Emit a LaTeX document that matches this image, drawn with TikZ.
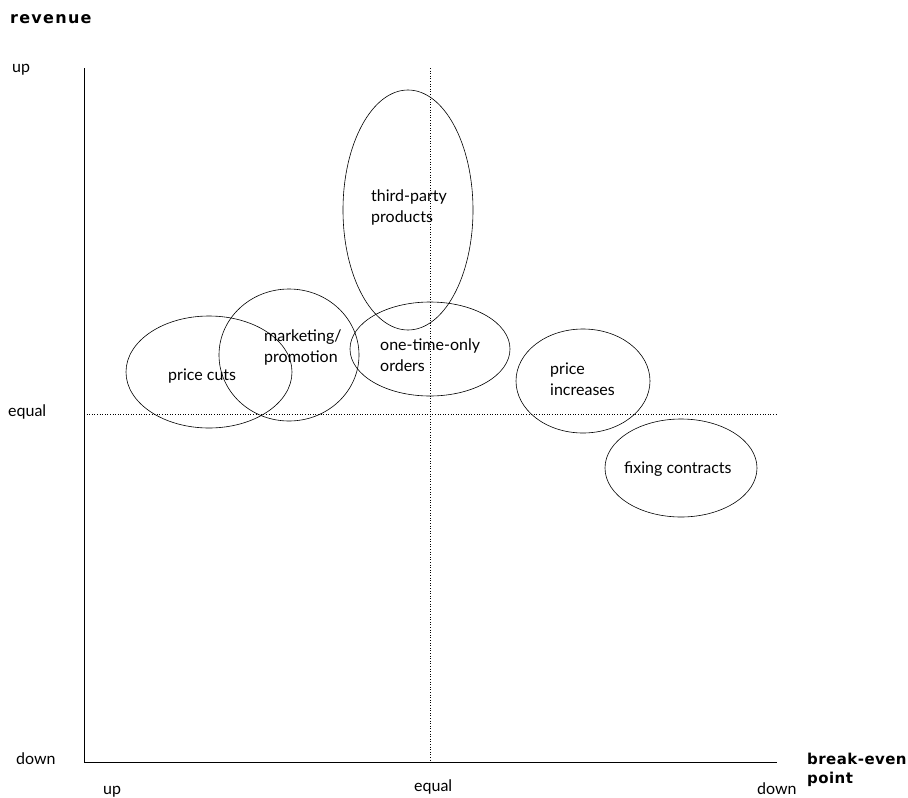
\documentclass[tikz,border=0pt]{standalone}
\usepackage{fontspec}
\setmainfont{Lato}
\newfontfamily\headfont{DejaVu Sans}[LetterSpace=3]
\newfontfamily\revfont{DejaVu Sans}[LetterSpace=8]
\usetikzlibrary{shapes.geometric}
\begin{document}
\begin{tikzpicture}[x=1pt,y=-1pt,
  every node/.style={inner sep=0pt,font=\fontsize{16}{21}\selectfont},
  axis/.style={line width=0.8pt},
  guide/.style={dotted,line width=0.6pt},
  field/.style={draw,line width=0.6pt},
  lbl/.style={anchor=base west,align=left},
  head/.style={anchor=base west,align=left,font=\headfont\bfseries\fontsize{15}{19}\selectfont}]
\useasboundingbox (0,0) rectangle (908,798);
% axes
\coordinate (O) at (84,762);
\coordinate (Ytop) at (84,68);
\coordinate (Xend) at (777,762);
\draw[axis] (Ytop) -- (O) -- (Xend);
% equal lines
\coordinate (hL) at (84,414);
\coordinate (hR) at (777,414);
\coordinate (vT) at (430,68);
\coordinate (vB) at (430,762);
\draw[guide] (hL) -- (hR);
\draw[guide] (vT) -- (vB);
% fields
\draw[field] (408,210) ellipse [x radius=65, y radius=120];
\draw[field] (209,372) ellipse [x radius=83, y radius=56];
\draw[field] (289,355) ellipse [x radius=70, y radius=66];
\draw[field] (430,349) ellipse [x radius=80, y radius=47];
\draw[field] (583,381) ellipse [x radius=67, y radius=52];
\draw[field] (681,468) ellipse [x radius=76, y radius=49];
% field labels (anchored at the baseline of the last line)
\node[lbl] (tp) at (371,222) {third-party\\products};
\node[lbl] (pc) at (168,380) {price cuts};
\node[lbl] (mp) at (264,362) {marketing/\\promotion};
\node[lbl] (oo) at (380,371) {one-time-only\\orders};
\node[lbl] (pi) at (550,395) {price\\increases};
\node[lbl] (fc) at (624,473) {fixing contracts};
% axis labels
\node[head,font=\revfont\bfseries\fontsize{16}{19}\selectfont] (rev) at (10,23) {revenue};
\node[lbl] (yup) at (12,72) {up};
\node[lbl] (yeq) at (8,416) {equal};
\node[lbl] (ydn) at (16,764) {down};
\node[lbl] (xup) at (103,794) {up};
\node[lbl] (xeq) at (414,791) {equal};
\node[lbl] (xdn) at (757,794) {down};
\node[head] (bep) at (807,783) {break-even\\point};
\end{tikzpicture}
\end{document}
